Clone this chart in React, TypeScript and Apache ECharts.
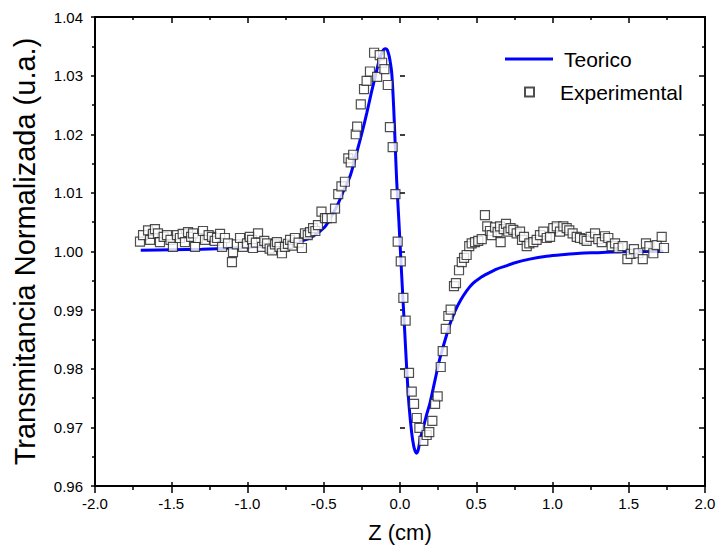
import React, { useEffect, useRef } from "react";
import * as echarts from "echarts";

// Theoretical curve (Teorico)
const zTeo = [-1.70, -1.50, -1.30, -1.10, -0.90, -0.72, -0.60, -0.50, -0.45, -0.405, -0.36, -0.328, -0.295, -0.262, -0.24, -0.218, -0.186, -0.157, -0.136, -0.12, -0.109, -0.098, -0.087, -0.078, -0.070, -0.062, -0.054, -0.046, -0.037, -0.030, -0.022, -0.015, -0.007, 0.0, 0.018, 0.030, 0.044, 0.059, 0.077, 0.090, 0.100, 0.109, 0.120, 0.131, 0.153, 0.175, 0.197, 0.23, 0.262, 0.306, 0.33, 0.36, 0.40, 0.437, 0.48, 0.525, 0.58, 0.634, 0.69, 0.743, 0.85, 0.962, 1.08, 1.18, 1.30, 1.40, 1.55, 1.727];
const tTeo = [1.0002, 1.0003, 1.0004, 1.0006, 1.0009, 1.0014, 1.0022, 1.0040, 1.0060, 1.0082, 1.0110, 1.0128, 1.0158, 1.0190, 1.0212, 1.0236, 1.0273, 1.0304, 1.0327, 1.0338, 1.0344, 1.0346, 1.0345, 1.0340, 1.0332, 1.0320, 1.0304, 1.0270, 1.0219, 1.0172, 1.0122, 1.0088, 1.0050, 1.0015, 0.9925, 0.9868, 0.9800, 0.9738, 0.9690, 0.9668, 0.9659, 0.9656, 0.9662, 0.9678, 0.9700, 0.9722, 0.9742, 0.9781, 0.9818, 0.9858, 0.9878, 0.9898, 0.9918, 0.9933, 0.9946, 0.9955, 0.9963, 0.9970, 0.9975, 0.9980, 0.9987, 0.9992, 0.9995, 0.9997, 0.9998, 0.9999, 1.0000, 1.0000];

// Experimental points
const zExp = [-1.705, -1.685, -1.652, -1.639, -1.620, -1.607, -1.587, -1.574, -1.550, -1.528, -1.505, -1.489, -1.462, -1.443, -1.425, -1.410, -1.390, -1.370, -1.357, -1.344, -1.325, -1.292, -1.279, -1.255, -1.233, -1.215, -1.200, -1.180, -1.167, -1.148, -1.128, -1.102, -1.095, -1.070, -1.049, -1.030, -1.003, -0.985, -0.970, -0.964, -0.945, -0.931, -0.905, -0.890, -0.872, -0.855, -0.839, -0.820, -0.807, -0.790, -0.774, -0.754, -0.735, -0.721, -0.705, -0.689, -0.665, -0.643, -0.623, -0.605, -0.590, -0.570, -0.555, -0.538, -0.515, -0.492, -0.479, -0.448, -0.426, -0.405, -0.384, -0.361, -0.339, -0.323, -0.307, -0.290, -0.281, -0.257, -0.236, -0.219, -0.197, -0.170, -0.150, -0.133, -0.117, -0.102, -0.080, -0.066, -0.048, -0.030, -0.015, 0.005, 0.022, 0.037, 0.059, 0.077, 0.092, 0.110, 0.127, 0.153, 0.175, 0.192, 0.212, 0.230, 0.247, 0.267, 0.280, 0.300, 0.317, 0.332, 0.354, 0.367, 0.387, 0.405, 0.420, 0.437, 0.454, 0.470, 0.492, 0.513, 0.536, 0.557, 0.572, 0.590, 0.601, 0.623, 0.640, 0.656, 0.660, 0.680, 0.695, 0.710, 0.725, 0.743, 0.765, 0.787, 0.800, 0.813, 0.831, 0.848, 0.874, 0.896, 0.918, 0.940, 0.962, 0.984, 1.005, 1.028, 1.049, 1.071, 1.093, 1.110, 1.132, 1.159, 1.180, 1.207, 1.224, 1.250, 1.279, 1.300, 1.323, 1.344, 1.366, 1.388, 1.410, 1.432, 1.460, 1.491, 1.513, 1.534, 1.563, 1.592, 1.613, 1.635, 1.661, 1.683, 1.716, 1.731];
const tExp = [1.0017, 1.0028, 1.0036, 1.0020, 1.0030, 1.0038, 1.0031, 1.0016, 1.0025, 1.0028, 1.0020, 1.0008, 1.0028, 1.0023, 1.0030, 1.0016, 1.0033, 1.0025, 1.0031, 1.0008, 1.0023, 1.0035, 1.0020, 1.0028, 1.0025, 1.0018, 1.0023, 1.0030, 1.0008, 1.0023, 1.0014, 0.9982, 0.9999, 1.0012, 1.0023, 1.0008, 1.0014, 1.0025, 1.0020, 1.0006, 1.0015, 1.0031, 1.0008, 1.0018, 1.0014, 1.0005, 1.0002, 1.0012, 1.0016, 1.0008, 0.9997, 1.0008, 1.0013, 1.0020, 1.0010, 1.0023, 1.0015, 1.0006, 1.0031, 1.0028, 1.0033, 1.0040, 1.0035, 1.0045, 1.0068, 1.0057, 1.0057, 1.0057, 1.0073, 1.0098, 1.0111, 1.0119, 1.0159, 1.0152, 1.0165, 1.0200, 1.0213, 1.0251, 1.0277, 1.0291, 1.0307, 1.0339, 1.0298, 1.0335, 1.0322, 1.0311, 1.0284, 1.0212, 1.0178, 1.0098, 1.0017, 0.9983, 0.9921, 0.9882, 0.9793, 0.9761, 0.9740, 0.9716, 0.9699, 0.9677, 0.9687, 0.9692, 0.9711, 0.9740, 0.9753, 0.9803, 0.9830, 0.9868, 0.9890, 0.9901, 0.9941, 0.9946, 0.9968, 0.9982, 0.9989, 0.9994, 1.0009, 1.0014, 1.0016, 1.0018, 1.0021, 1.0062, 1.0043, 1.0035, 1.0028, 1.0041, 1.0033, 1.0043, 1.0016, 1.0038, 1.0047, 1.0034, 1.0040, 1.0037, 1.0031, 1.0034, 1.0020, 1.0025, 1.0009, 1.0014, 1.0016, 1.0020, 1.0028, 1.0034, 1.0023, 1.0025, 1.0040, 1.0043, 1.0034, 1.0043, 1.0040, 1.0036, 1.0031, 1.0025, 1.0023, 1.0021, 1.0018, 1.0025, 1.0031, 1.0021, 1.0016, 1.0026, 1.0023, 1.0009, 1.0014, 1.0006, 1.0009, 0.9987, 0.9996, 1.0004, 0.9997, 0.9987, 1.0014, 1.0009, 0.9997, 1.0011, 1.0025, 1.0006];

const FONT = "'Liberation Sans', Arial, Helvetica, sans-serif";

export default function App() {
  const ref = useRef<HTMLDivElement>(null);
  useEffect(() => {
    if (!ref.current) return;
    const chart = echarts.init(ref.current, undefined, { renderer: "svg" });
    const axisLine = { show: true, onZero: false, lineStyle: { color: "#000", width: 2 } };
    const xBase = { type: "value", min: -2, max: 2, interval: 0.5, splitLine: { show: false } };
    const yBase = { type: "value", min: 0.96, max: 1.04, interval: 0.01, splitLine: { show: false } };
    chart.setOption({
      animation: false,
      backgroundColor: "#fff",
      textStyle: { fontFamily: FONT },
      grid: { left: 95, right: 15, top: 17, bottom: 70, containLabel: false },
      xAxis: [
        {
          ...xBase,
          position: "bottom",
          axisLine,
          axisTick: { show: true, inside: false, length: 7, lineStyle: { color: "#000", width: 1.5 } },
          minorTick: { show: true, splitNumber: 2, length: 4, lineStyle: { color: "#000", width: 1.5 } },
          axisLabel: { color: "#000", fontSize: 15, margin: 10, fontFamily: FONT, formatter: (v: number) => v.toFixed(1) },
          name: "Z (cm)",
          nameLocation: "middle",
          nameGap: 35,
          nameTextStyle: { color: "#000", fontSize: 22, fontFamily: FONT },
        },
        {
          ...xBase,
          position: "bottom",
          axisLine: { show: false },
          axisTick: { show: true, inside: true, length: 4, lineStyle: { color: "#000", width: 1.5 } },
          axisLabel: { show: false },
        },
        {
          ...xBase,
          position: "top",
          axisLine,
          axisTick: { show: true, inside: true, length: 6, lineStyle: { color: "#000", width: 1.5 } },
          minorTick: { show: true, splitNumber: 2, length: 3, lineStyle: { color: "#000", width: 1.5 } },
          axisLabel: { show: false },
        },
      ],
      yAxis: [
        {
          ...yBase,
          position: "left",
          axisLine,
          axisTick: { show: true, inside: false, length: 4, lineStyle: { color: "#000", width: 1.5 } },
          minorTick: { show: true, splitNumber: 2, length: 3, lineStyle: { color: "#000", width: 1.5 } },
          axisLabel: { color: "#000", fontSize: 15, margin: 12, fontFamily: FONT, formatter: (v: number) => v.toFixed(2) },
          name: "Transmitancia Normalizada (u.a.)",
          nameLocation: "middle",
          nameGap: 56,
          nameTextStyle: { color: "#000", fontSize: 29, fontFamily: FONT },
        },
        {
          ...yBase,
          position: "left",
          axisLine: { show: false },
          axisTick: { show: true, inside: true, length: 5, lineStyle: { color: "#000", width: 1.5 } },
          axisLabel: { show: false },
        },
        {
          ...yBase,
          position: "right",
          axisLine,
          axisTick: { show: true, inside: true, length: 6, lineStyle: { color: "#000", width: 1.5 } },
          minorTick: { show: true, splitNumber: 2, length: 3, lineStyle: { color: "#000", width: 1.5 } },
          axisLabel: { show: false },
        },
      ],
      legend: [
        {
          data: [{ name: "Teorico", icon: "rect" }],
          left: 505,
          top: 47,
          padding: 0,
          itemWidth: 48,
          itemHeight: 3,
          itemStyle: { color: "#0000ff" },
          textStyle: { color: "#000", fontSize: 21, lineHeight: 24, fontFamily: FONT, padding: [0, 0, 0, 6] },
        },
        {
          data: ["Experimental"],
          left: 524,
          top: 80,
          padding: 0,
          itemWidth: 9,
          itemHeight: 9,
          textStyle: { color: "#000", fontSize: 21, lineHeight: 24, fontFamily: FONT, padding: [0, 0, 0, 21] },
        },
      ],
      series: [
        {
          name: "Teorico",
          type: "line",
          xAxisIndex: 0,
          yAxisIndex: 0,
          data: zTeo.map((z, i) => [z, tTeo[i]]),
          symbol: "none",
          smooth: 0.3,
          lineStyle: { color: "#0000ff", width: 3 },
          itemStyle: { color: "#0000ff" },
          z: 2,
        },
        {
          name: "Experimental",
          type: "scatter",
          xAxisIndex: 0,
          yAxisIndex: 0,
          data: zExp.map((z, i) => [z, tExp[i]]),
          symbol: "rect",
          symbolSize: 9,
          itemStyle: { color: "#fff", borderColor: "#222", borderWidth: 1.2 },
          z: 3,
        },
      ],
    });
    return () => chart.dispose();
  }, []);
  return <div ref={ref} style={{ position: "absolute", left: 0, top: 0, width: 720, height: 556 }} />;
}
